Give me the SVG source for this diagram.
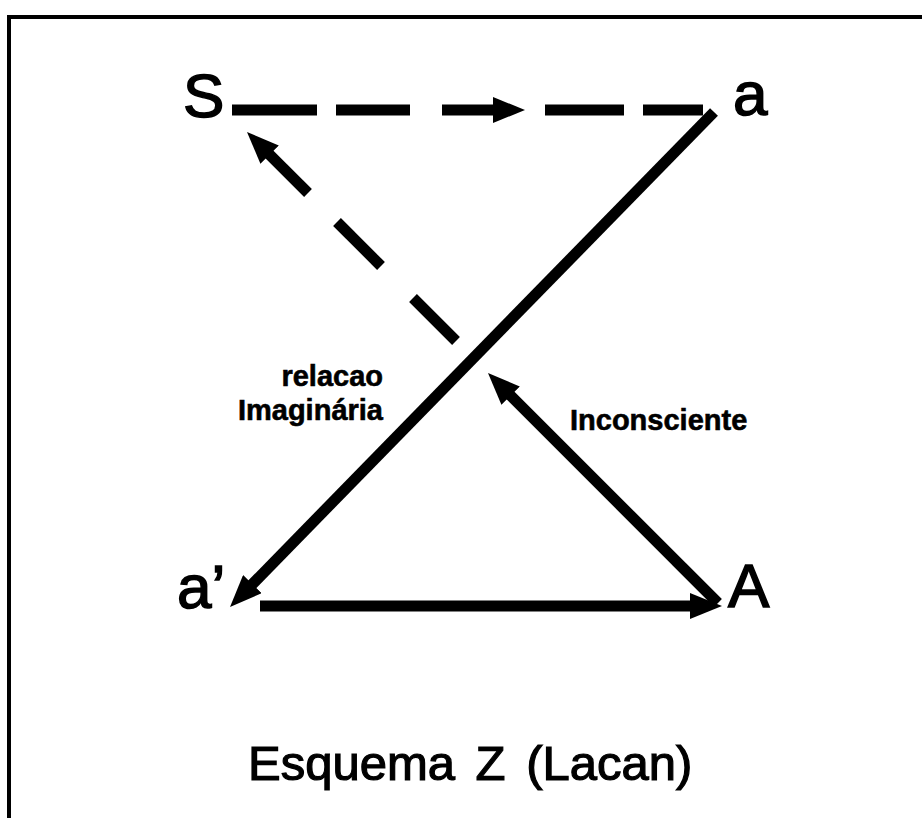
<svg xmlns="http://www.w3.org/2000/svg" width="922" height="818" viewBox="0 0 922 818">
  <style>
    .node { font-family: "Liberation Sans", Arial, sans-serif; font-size: 62px; fill: #000; stroke: #000; stroke-width: 1.5px; }
    .lbl { font-family: "Liberation Sans", Arial, sans-serif; font-size: 29px; font-weight: bold; fill: #000; stroke: #000; stroke-width: 0.6px; }
    .title { font-family: "Liberation Sans", Arial, sans-serif; font-size: 49px; fill: #000; stroke: #000; stroke-width: 1.2px; word-spacing: 7px; }
    .ln { stroke: #000; stroke-width: 11; fill: none; stroke-linecap: butt; }
    .arr { marker-end: url(#head); }
    .frame { stroke: #000; stroke-width: 4; fill: none; }
  </style>
  <defs>
    <marker id="head" markerUnits="userSpaceOnUse" viewBox="0 0 32 26" markerWidth="32" markerHeight="26" refX="16" refY="13" orient="auto">
      <path d="M0,0 L32,13 L0,26 z" fill="#000"/>
    </marker>
  </defs>
  <rect width="922" height="818" fill="#fff"/>
  <g id="frame">
    <path class="frame" d="M9,818 L9,17 L922,17"/>
  </g>
  <g id="connectors">
    <!-- S to a dashed -->
    <line class="ln" x1="232" y1="110" x2="317" y2="110"/>
    <line class="ln" x1="336" y1="110" x2="410" y2="110"/>
    <line class="ln arr" x1="442" y1="110" x2="509" y2="110"/>
    <line class="ln" x1="545" y1="110" x2="624" y2="110"/>
    <line class="ln" x1="643" y1="110" x2="703" y2="110"/>
    <!-- a to a' -->
    <line class="ln arr" x1="714" y1="112" x2="241.2" y2="595.6"/>
    <!-- a' to A -->
    <line class="ln arr" x1="260" y1="606" x2="706" y2="606"/>
    <!-- A to S (dashed, with arrows) -->
    <line class="ln arr" x1="718" y1="603" x2="499.3" y2="384.3"/>
    <line class="ln" x1="456" y1="341" x2="413" y2="298"/>
    <line class="ln" x1="381" y1="266" x2="337" y2="222"/>
    <line class="ln arr" x1="308" y1="193" x2="258.3" y2="143.3"/>
  </g>
  <g id="node-S"><text class="node" x="183" y="117">S</text></g>
  <g id="node-a"><text class="node" x="733" y="115">a</text></g>
  <g id="node-a-prime"><text class="node" x="177" y="608">a’</text></g>
  <g id="node-A"><text class="node" x="728" y="607">A</text></g>
  <g id="labels">
    <text class="lbl" x="383" y="386" text-anchor="end">relacao</text>
    <text class="lbl" x="383" y="420" text-anchor="end">Imaginária</text>
    <text class="lbl" x="570" y="430">Inconsciente</text>
  </g>
  <g id="title">
    <text class="title" x="248" y="780">Esquema Z (Lacan)</text>
  </g>
</svg>
